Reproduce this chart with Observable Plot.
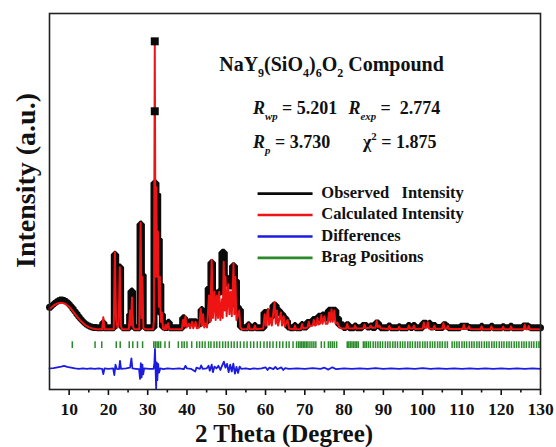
<!DOCTYPE html>
<html><head><meta charset="utf-8">
<script src="https://cdn.jsdelivr.net/npm/d3@7"></script>
<script src="https://cdn.jsdelivr.net/npm/@observablehq/plot@0.6"></script>
<style>html,body{margin:0;padding:0;background:#fff;}</style>
</head><body><div id="chart"></div>
<script>
const xTicks = [10,20,30,40,50,60,70,80,90,100,110,120,130];
const xMinorTicks = [15,25,35,45,55,65,75,85,95,105,115,125];

// calculated profile [2θ, intensity]
const calculated = [[5,21.4],[6,22.3],[7,22.9],[8,23.1],[9,22.8],[10,22.0],[11,20.8],[12,19.4],[13,18.2],[14,17.2],[15,16.6],[16,16.2],[17,16.0],
[18.4,16.0],[18.7,19.2],[19.0,16.0],
[21.35,16.0],[21.65,36.5],[21.95,18.5],[22.3,16.5],[22.6,17.5],[22.9,32.5],[23.2,16.8],[23.5,16.0],
[25.2,16.0],[25.5,21.0],[25.75,17.0],[26.0,24.5],[26.3,16.5],[26.7,16.0],
[27.85,16.0],[28.2,44.3],[28.45,19.0],[28.65,30.0],[28.9,16.3],[29.5,16.0],
[31.4,16.0],[31.6,18.5],[31.8,92.6],[32.0,30.0],[32.2,53.8],[32.4,30.0],[32.6,42.0],[32.85,22.0],[33.1,30.0],[33.35,18.0],[33.6,20.5],[33.9,16.2],
[34.3,16.0],[34.55,17.2],[34.8,16.0],[35.2,17.6],[35.5,16.0],
[38.7,16.0],[39.0,18.5],[39.3,16.8],[39.6,19.5],[39.9,16.5],[40.5,17.5],[40.8,16.3],[41.3,18.0],[41.6,16.3],[42.2,18.0],[42.5,16.3],
[43.1,16.5],[43.5,21.5],[43.8,17.0],[44.1,20.0],[44.4,16.5],[44.8,17.5],[45.1,16.5],[45.6,25.0],[45.9,18.0],[46.3,34.5],[46.6,19.0],[47.0,26.0],[47.3,18.5],[47.6,25.0],[47.9,19.0],[48.2,26.0],[48.5,18.5],[48.9,24.0],[49.1,19.0],[49.35,34.0],[49.6,21.0],[49.8,30.0],[50.1,19.5],[50.5,28.0],[50.8,20.0],[51.1,26.0],[51.4,19.5],[51.85,33.5],[52.05,20.0],[52.3,30.0],[52.6,18.5],[53.3,21.0],[53.6,16.5],[54.0,16.0],
[55.4,16.0],[55.7,17.5],[56.0,16.0],[57.0,16.0],[57.3,17.0],[57.6,16.0],
[59.4,16.2],[59.8,20.0],[60.1,17.0],[60.6,21.5],[60.9,17.2],[61.3,19.0],[61.6,17.0],[62.3,23.3],[62.6,17.5],[62.9,21.0],[63.2,17.0],[63.9,20.5],[64.2,17.0],[64.6,19.5],[64.9,16.8],[65.6,18.5],[66.0,16.2],
[67.2,16.0],[67.5,17.0],[67.8,16.0],[69.0,16.1],[69.3,17.4],[69.6,16.2],[70.7,16.5],[71.0,18.0],[71.3,16.8],[72.0,17.0],[72.3,18.5],[72.6,17.0],[72.9,17.2],[73.2,19.0],[73.5,17.3],[73.9,17.5],[74.2,19.8],[74.5,17.5],[75.0,19.5],[75.3,17.5],[75.8,17.5],[76.2,20.5],[76.5,18.0],[76.8,21.3],[77.1,18.0],[77.5,21.0],[77.8,17.5],[78.3,17.8],[78.8,16.5],[79.5,16.2],
[80.5,16.2],[80.8,17.5],[81.1,16.3],[82.5,16.2],[82.8,17.0],[83.1,16.2],[84.9,16.3],[85.2,17.3],[85.5,16.3],[86.5,16.4],[86.8,17.0],[87.1,16.4],[88.0,16.4],[88.3,18.2],[88.6,16.6],[89.0,17.0],[89.3,16.3],
[91.2,16.1],[91.5,16.9],[91.8,16.1],[93.7,16.1],[94.0,16.7],[94.3,16.1],[96.2,16.1],[96.5,17.0],[96.8,16.2],[97.5,16.2],[97.8,17.0],[98.1,16.1],
[100.0,16.2],[100.3,17.8],[100.6,16.4],[101.0,16.4],[101.3,17.9],[101.6,16.2],[102.7,16.1],[103.0,17.0],[103.3,16.1],[105.0,16.2],[105.3,17.6],[105.6,16.2],[106.1,16.2],[106.4,16.9],[106.7,16.1],
[110.2,16.1],[110.5,17.2],[110.8,16.1],[111.5,16.2],[111.8,16.8],[112.1,16.1],[114.7,16.0],[115.0,16.8],[115.3,16.0],[117.2,16.0],[117.5,16.8],[117.8,16.0],[120.2,16.0],[120.5,16.7],[120.8,16.0],[122.2,16.0],[122.5,16.8],[122.8,16.0],[125.7,16.0],[126.0,17.2],[126.3,16.0],[126.7,16.0],[127.0,16.9],[127.3,16.0],[130,16.0]];

// observed intensity (dense markers read as a stepped envelope) [2θ, intensity]
const observed = [[5,21.9],[5.5,22.4],[6,22.9],[6.5,23.3],[7,23.6],[7.5,23.8],[8.5,23.7],[9,23.4],[9.5,23.0],[10,22.4],[10.5,21.8],[11,21.1],[11.5,20.4],[12,19.7],[12.5,19.0],[13,18.4],[13.5,17.9],[14,17.4],[14.5,17.1],[15,16.8],[15.5,16.6],[16,16.5],[17,16.4],
[18.55,17.8],[18.85,16.4],
[21.5,36.0],[21.85,21.0],[22.3,18.5],[22.6,20.5],[22.75,32.6],[23.1,17.0],[23.5,16.4],
[25.4,20.0],[25.75,26.2],[26.15,17.0],[26.5,16.4],
[28.05,44.0],[28.4,22.0],[28.55,30.5],[28.85,16.8],[29.3,16.4],
[31.6,55.0],[32.1,52.0],[32.55,40.0],[32.95,28.0],[33.35,20.0],[33.75,16.6],[34.2,16.4],
[34.4,17.2],[34.7,16.5],[35.1,17.9],[35.5,16.4],
[38.9,19.1],[39.4,18.0],[40.0,17.6],[40.5,18.0],[42.4,17.5],[43.6,21.3],[43.95,19.5],[44.6,18.2],
[45.4,27.0],[46.1,33.8],[46.5,26.0],[47.2,25.3],[48.0,26.0],[48.9,36.5],[49.5,30.0],[50.1,28.9],[50.8,27.5],[51.6,32.9],[52.1,29.0],[52.6,22.0],[53.1,21.3],[53.6,16.6],[54.2,16.4],
[55.5,17.2],[55.9,16.4],[57.1,17.0],[57.5,16.4],
[59.6,20.5],[60.9,19.5],[61.9,22.4],[62.7,21.0],[63.6,20.1],[64.4,19.0],[65.2,18.3],[65.6,16.6],[66.2,16.4],
[67.3,17.0],[67.7,16.4],[69.1,17.3],[69.5,16.6],
[70.5,17.8],[72.0,18.6],[73.4,19.5],[74.4,19.8],[75.3,19.0],[76.0,21.1],[77.9,19.0],[78.6,17.2],[79.8,16.5],
[80.5,17.2],[81.2,16.4],[82.6,16.9],[83.1,16.4],[84.6,17.0],[85.8,16.6],[86.6,16.9],[87.1,16.5],[88.0,17.7],[88.8,16.9],[89.2,16.4],
[91.2,16.9],[91.8,16.4],[93.8,16.7],[94.3,16.4],[96.2,17.0],[96.8,16.5],[97.5,17.0],[98.1,16.4],
[100.0,17.6],[101.0,17.4],[101.6,17.6],[102.0,16.6],[102.7,17.0],[103.3,16.5],
[105.2,17.2],[106.0,16.8],[106.5,16.4],
[109.6,16.8],[111.6,16.5],[112.2,16.4],
[114.8,16.8],[115.3,16.4],[117.3,16.8],[117.9,16.4],[120.2,16.7],[120.8,16.4],[122.2,16.8],[122.8,16.4],
[125.5,16.9],[127.0,16.6],[127.4,16.4],[130,16.4]];

// isolated observed markers on the strongest reflection
const observedPeakMarkers = [[31.8,92.6],[31.8,74.0]];

// difference curve (offset) [2θ, value]
const difference = [[5,5.6],[6,5.7],[7,5.9],[8,6.1],[8.7,6.3],[9.5,6.0],[10.5,5.8],[11.5,5.6],[12.5,5.5],[13.5,5.6],[14.5,5.5],[15.5,5.6],[16.5,5.5],[17.5,5.6],[18.4,5.5],[18.7,4.1],[19.0,5.6],[20.0,5.5],[21.2,5.6],[21.5,3.8],[21.8,6.6],[22.1,5.5],[22.7,5.4],[22.95,7.6],[23.2,5.5],[24.5,5.6],[25.5,5.8],[25.85,8.3],[26.1,5.6],[27.0,5.5],[27.8,5.4],[28.05,2.8],[28.25,7.0],[28.45,3.2],[28.65,6.6],[28.85,4.0],[29.1,5.6],[30.5,5.5],[31.5,5.5],[31.7,7.0],[31.85,10.8],[32.0,5.6],[32.15,0.3],[32.3,7.2],[32.45,2.5],[32.65,6.8],[32.9,4.5],[33.2,5.6],[34.0,5.4],[35.0,5.6],[36.5,5.5],[38.0,5.6],[39.2,5.4],[39.6,6.3],[40.0,5.6],[41.0,5.5],[42.1,4.8],[42.4,5.8],[43.3,5.5],[43.6,6.4],[44.0,5.5],[45.0,5.6],[45.5,6.3],[45.8,5.0],[46.3,6.6],[46.6,4.6],[47.0,6.1],[47.5,5.6],[48.0,6.3],[48.5,5.2],[49.0,6.5],[49.4,7.4],[49.8,5.8],[50.2,6.8],[50.6,4.6],[51.0,6.6],[51.4,4.8],[51.8,6.9],[52.2,4.2],[52.6,6.0],[53.0,4.4],[53.4,6.1],[53.8,5.5],[55.0,5.6],[56.0,5.4],[57.0,5.6],[58.0,5.5],[59.0,5.6],[60.0,5.9],[60.5,5.2],[61.0,5.8],[62.0,5.4],[62.5,6.0],[63.0,5.4],[64.0,5.9],[64.5,5.2],[65.0,5.7],[66.0,5.5],[68.0,5.6],[70.0,5.5],[72.0,5.7],[74.0,5.5],[75.0,5.8],[76.0,5.3],[77.0,5.9],[78.0,5.4],[80.0,5.6],[82.0,5.5],[84.0,5.6],[86.0,5.5],[88.0,5.7],[90.0,5.5],[92.0,5.6],[94.0,5.5],[96.0,5.6],[98.0,5.5],[100.0,5.7],[102.0,5.5],[104.0,5.6],[106.0,5.5],[108.0,5.6],[110.0,5.5],[112.0,5.6],[114.0,5.5],[116.0,5.6],[118.0,5.5],[120.0,5.6],[122.0,5.5],[124.0,5.6],[126.0,5.5],[128.0,5.6],[130.0,5.5]];

// Bragg reflection positions (2θ)
const braggPositions = [10.8,16.6,18.3,22.0,23.0,25.3,26.2,27.4,28.7,31.55,31.95,32.4,32.8,33.3,34.4,35.5,
37.8,38.7,39.3,40.0,41.2,42.5,43.2,43.9,44.6,45.5,46.1,46.9,47.6,48.3,49.1,49.8,50.5,51.3,52.0,52.8,53.6,54.5,55.3,56.2,57.0,57.9,58.7,59.6,60.4,61.1,61.9,62.8,63.6,64.4,65.3,66.0,67.0,67.9,68.4,68.8,69.2,69.6,70.0,70.4,70.8,71.3,71.8,72.3,72.8,74.2,75.0,76.0,76.5,77.0,77.5,78.1,
80.8,81.2,81.6,82.0,82.4,82.8,83.2,83.6,84.9,85.3,85.7,86.2,86.7,87.4,88.0,88.6,89.2,89.8,90.5,91.1,91.7,92.4,93.0,93.6,94.3,94.9,95.5,96.2,96.8,97.4,98.1,98.7,99.3,100.0,100.6,101.2,101.9,102.5,103.1,103.8,104.4,105.0,105.7,106.3,107.5,108.1,108.7,109.3,110.0,110.6,111.2,111.9,112.5,113.1,113.8,114.4,115.0,115.7,116.3,116.9,117.6,118.2,118.8,119.5,120.1,120.7,121.4,122.0,122.6,123.3,123.9,124.5,125.2,125.8,126.4,127.1,127.7,128.3,129.0,129.6];

const legendLabels = ["Observed\u00a0\u00a0 Intensity", "Calculated Intensity", "Differences", "Brag Positions"];
const legendColors = ["#0a0a0a", "#ee1414", "#1c1ce0", "#2b8a2b"];
const compoundTitle = "NaY_{9}(SiO_{4})_{6}O_{2} Compound";
const fitStatistics = ["*{R}%{wp} = 5.201", "*{R}%{exp} =\u00a0 2.774", "*{R}%{p} = 3.730", "\u03c7^{2} = 1.875"];

const legendRows = legendLabels.map((label, i) => ({label, color: legendColors[i], y: 52.1 - i * 5.7}));

const serif = "'Liberation Serif', 'Times New Roman', Times, serif";

const chart = Plot.plot({
  width: 556,
  height: 447,
  marginLeft: 49,
  marginRight: 16,
  marginTop: 13,
  marginBottom: 58,
  x: {domain: [5, 130]},
  y: {domain: [0, 100], axis: null},
  style: {fontFamily: serif, fontWeight: "bold", background: "#fff", color: "#111"},
  marks: [
    Plot.axisX({ticks: xTicks, tickSize: 6, tickPadding: 7, fontSize: 17.5, strokeWidth: 1.6, label: null}),
    Plot.axisX({ticks: xMinorTicks, tickSize: 3.5, strokeWidth: 1.6, text: null, label: null}),
    Plot.ruleX(braggPositions, {x: d => d, y1: 10.9, y2: 12.7, stroke: legendColors[3], strokeWidth: 1.5}),
    Plot.line(difference, {x: d => d[0], y: d => d[1], stroke: legendColors[2], strokeWidth: 1.8}),
    Plot.line(observed, {x: d => d[0], y: d => d[1], curve: "step-after", stroke: legendColors[0], strokeWidth: 7, strokeLinejoin: "miter"}),
    Plot.line(calculated, {x: d => d[0], y: d => d[1], stroke: legendColors[1], strokeWidth: 2}),
    Plot.dot(observedPeakMarkers, {x: d => d[0], y: d => d[1], symbol: "square", r: 4.5, fill: legendColors[0], stroke: null}),
    Plot.text([compoundTitle], {x: 48.2, y: 86.4, text: d => d, textAnchor: "start", fontSize: 20}),
    Plot.text([fitStatistics[0]], {x: 56.8, y: 74.7, text: d => d, textAnchor: "start", fontSize: 18}),
    Plot.text([fitStatistics[1]], {x: 81.1, y: 74.7, text: d => d, textAnchor: "start", fontSize: 18}),
    Plot.text([fitStatistics[2]], {x: 56.8, y: 65.8, text: d => d, textAnchor: "start", fontSize: 18}),
    Plot.text([fitStatistics[3]], {x: 84.8, y: 65.8, text: d => d, textAnchor: "start", fontSize: 18}),
    Plot.ruleY(legendRows, {y: "y", x1: 58.1, x2: 72.1, stroke: "color", strokeWidth: 2.6}),
    Plot.text(legendRows, {x: 74.2, y: "y", text: "label", textAnchor: "start", fontSize: 16.5, dy: -1}),
    Plot.text(["2 Theta (Degree)"], {frameAnchor: "bottom", text: d => d, textAnchor: "middle", lineAnchor: "middle", dx: -11, dy: 44, fontSize: 25}),
    Plot.text(["Intensity (a.u.)"], {frameAnchor: "left", text: d => d, textAnchor: "middle", lineAnchor: "middle", dx: -23, dy: -21, rotate: -90, fontSize: 28}),
    Plot.frame({stroke: "#222", strokeWidth: 1.6})
  ]
});

document.getElementById("chart").appendChild(chart);

// rich text: _{sub}, ^{sup}, *{italic}, %{italic sub}
(function richify(svg) {
  const ns = "http://www.w3.org/2000/svg";
  svg.querySelectorAll("text").forEach(t => {
    const s = t.textContent;
    if (!/[_^*%]\{/.test(s)) return;
    const fs = parseFloat(getComputedStyle(t).fontSize) || 18;
    while (t.firstChild) t.removeChild(t.firstChild);
    const re = /([_^*%])\{([^}]*)\}/g;
    let last = 0, m, cur = 0;
    const add = (txt, kind) => {
      const ts = document.createElementNS(ns, "tspan");
      ts.textContent = txt;
      let target = 0;
      if (kind === "_" || kind === "%") target = 0.32 * fs;
      if (kind === "^") target = -0.45 * fs;
      if (target !== cur) { ts.setAttribute("dy", target - cur); cur = target; }
      if (kind === "_" || kind === "%" || kind === "^") ts.setAttribute("font-size", 0.6 * fs);
      if (kind === "*" || kind === "%") ts.setAttribute("font-style", "italic");
      t.appendChild(ts);
    };
    while ((m = re.exec(s))) {
      if (m.index > last) add(s.slice(last, m.index), "");
      add(m[2], m[1]);
      last = re.lastIndex;
    }
    if (last < s.length) add(s.slice(last), "");
  });
})(chart);
</script>
</body></html>
